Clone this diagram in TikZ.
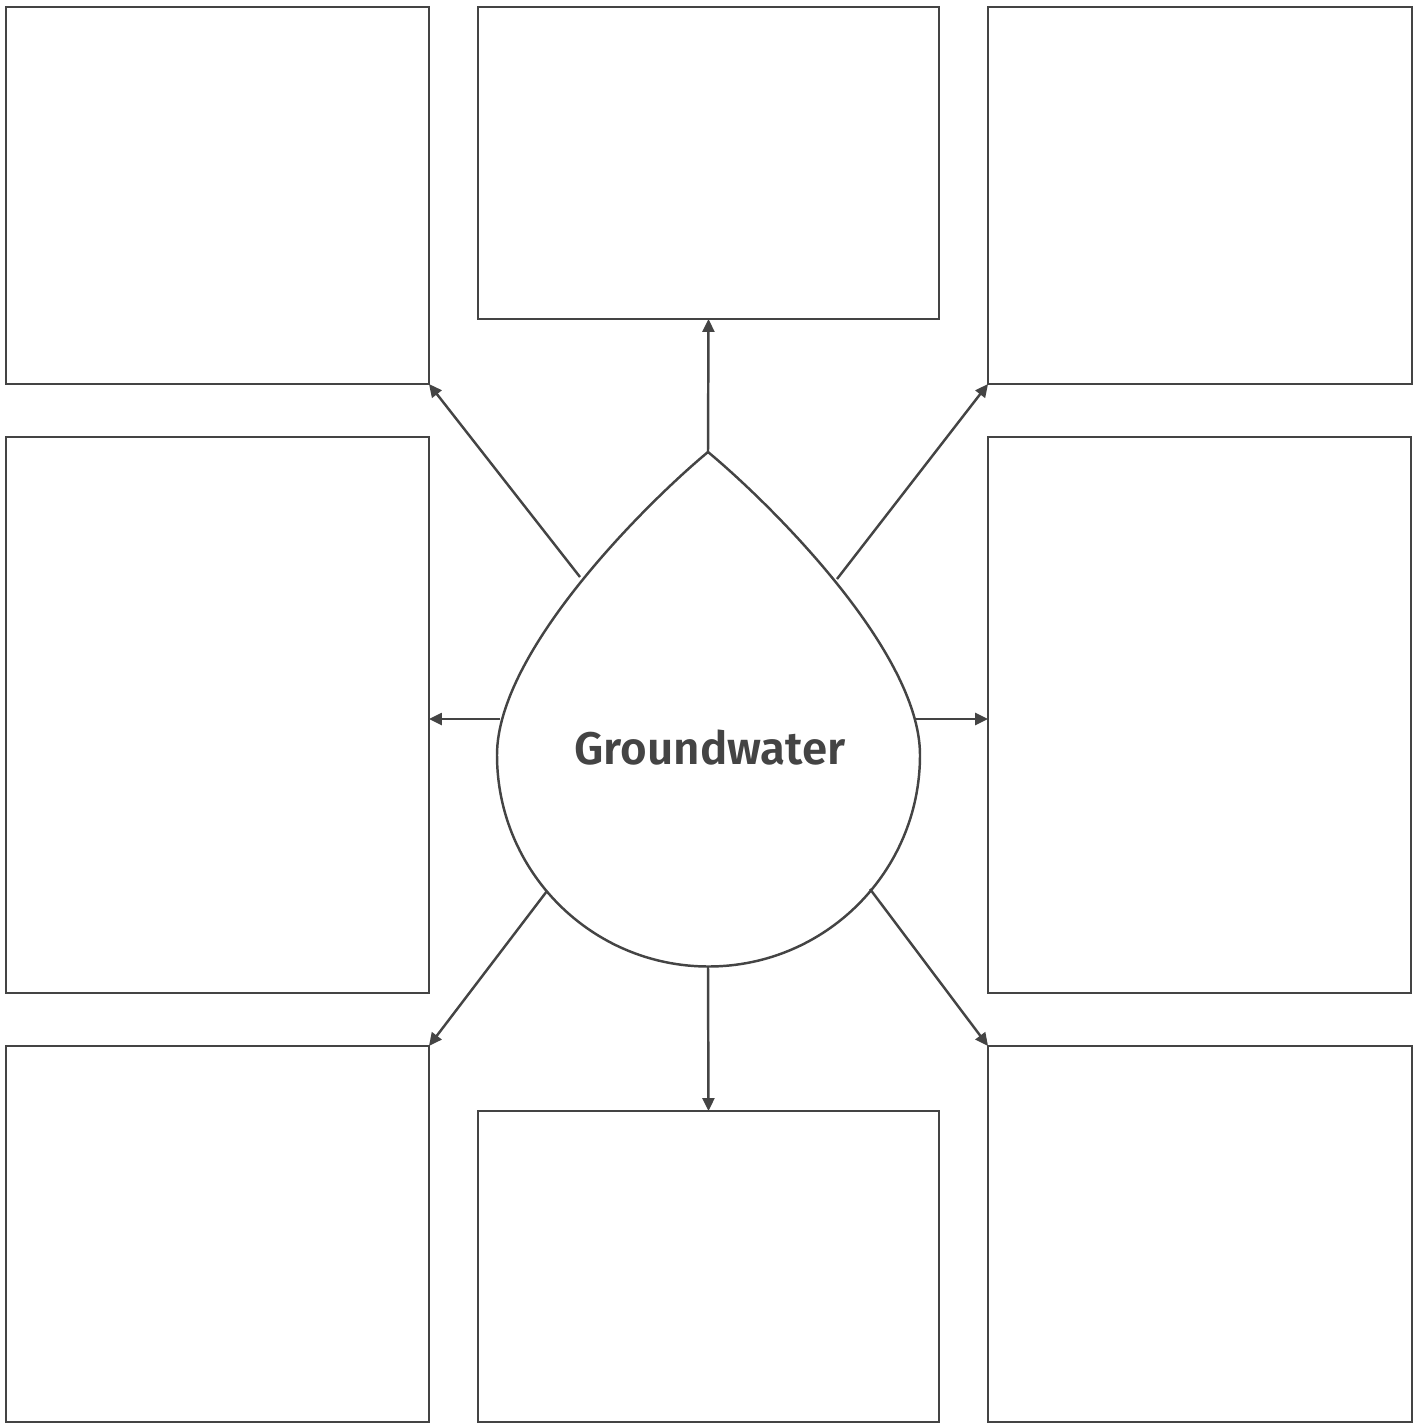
\documentclass[tikz,border=0pt]{standalone}
\usepackage{fontspec}
\newfontfamily\handfont{Fira Sans SemiBold}
\usetikzlibrary{arrows.meta,calc}
\definecolor{Ink}{HTML}{444444}
\definecolor{Paper}{HTML}{FFFFFF}
\tikzset{
  card/.style={
    rectangle, draw=Ink, line width=1.4pt, fill=Paper,
    inner sep=0pt, outer sep=0pt
  },
  spoke/.style={-{Triangle[length=2.6mm,width=2.4mm]}, line width=1.4pt, draw=Ink}
}
\begin{document}
\begin{tikzpicture}[x=0.02cm,y=-0.02cm]
  \useasboundingbox (0,0) rectangle (1421,1423);
  % cards round the drop
  \node[card,minimum width=8.46cm,minimum height=7.54cm] (tl) at (217.5,195.5) {};
  \node[card,minimum width=9.22cm,minimum height=6.24cm] (tc) at (708.5,163) {};
  \node[card,minimum width=8.48cm,minimum height=7.54cm] (tr) at (1200,195.5) {};
  \node[card,minimum width=8.46cm,minimum height=11.12cm] (ml) at (217.5,715) {};
  \node[card,minimum width=8.46cm,minimum height=11.12cm] (mr) at (1199.5,715) {};
  \node[card,minimum width=8.46cm,minimum height=7.52cm] (bl) at (217.5,1234) {};
  \node[card,minimum width=9.22cm,minimum height=6.22cm] (bc) at (708.5,1266.5) {};
  \node[card,minimum width=8.48cm,minimum height=7.52cm] (br) at (1200,1234) {};
  % the drop
  \draw[Ink,line width=1.4pt,fill=Paper] (708,452)
    .. controls (650,500) and (497,650) .. (497,755)
    arc[start angle=180,end angle=0,radius=211.5]
    .. controls (920,650) and (766,500) .. (708,452) -- cycle;
  \coordinate (top) at (708,452);
  \coordinate (w) at (500,719);
  \coordinate (e) at (916,719);
  \coordinate (bot) at (708,966);
  \coordinate (nw) at (580,577);
  \coordinate (ne) at (837,579);
  \coordinate (sw) at (547,891);
  \coordinate (se) at (870,889);
  \node[text=Ink,font=\handfont\fontsize{26}{32}\selectfont] (label) at (710,748) {Groundwater};
  % spokes
  \draw[spoke] (top) -- (tc.south);
  \draw[spoke] (w) -- (w -| ml.east);
  \draw[spoke] (e) -- (e -| mr.west);
  \draw[spoke] (bot) -- (bc.north);
  \draw[spoke] (nw) -- (tl.south east);
  \draw[spoke] (ne) -- (tr.south west);
  \draw[spoke] (sw) -- (bl.north east);
  \draw[spoke] (se) -- (br.north west);
\end{tikzpicture}
\end{document}
